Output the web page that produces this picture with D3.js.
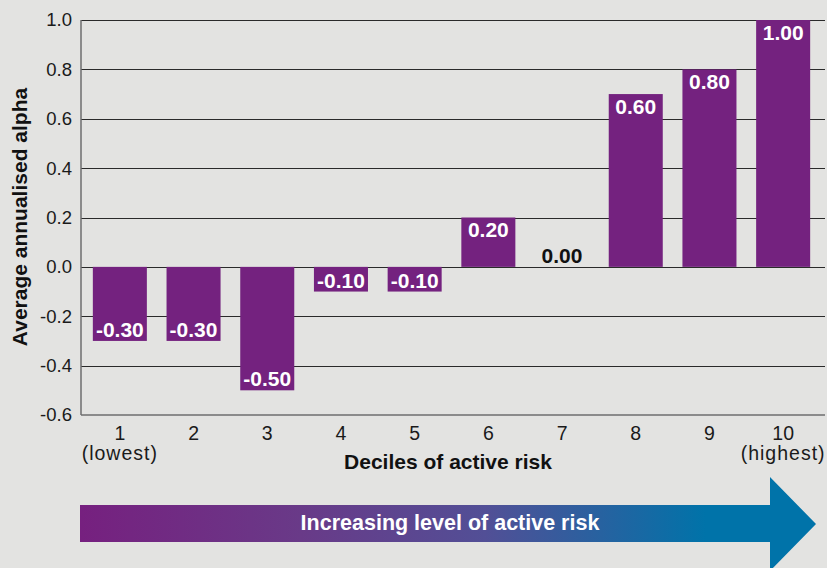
<!DOCTYPE html>
<html>
<head>
<meta charset="utf-8">
<script src="https://cdn.jsdelivr.net/npm/d3@7"></script>
<style>
html,body{margin:0;padding:0;background:#e3e3e1;}
svg{display:block;}
text{font-family:"Liberation Sans",Arial,Helvetica,sans-serif;}
</style>
</head>
<body>
<svg id="chart" width="827" height="568"></svg>
<script>
const categories = ["1","2","3","4","5","6","7","8","9","10"];
const subLabels = ["(lowest)","","","","","","","","","(highest)"];
const values = [-0.30,-0.30,-0.50,-0.10,-0.10,0.20,0.00,0.70,0.80,1.00];
const valueLabels = ["-0.30","-0.30","-0.50","-0.10","-0.10","0.20","0.00","0.60","0.80","1.00"];
const yTicks = [1.0,0.8,0.6,0.4,0.2,0.0,-0.2,-0.4,-0.6];
const yTitle = "Average annualised alpha";
const xTitle = "Deciles of active risk";
const arrowText = "Increasing level of active risk";

(function(){
const svg = d3.select("#chart");
const W = 827, H = 568;
svg.append("rect").attr("width",W).attr("height",H).attr("fill","#e3e3e1");

const pL = 81, pR = 825, pT = 20, pB = 415;
const y = d3.scaleLinear().domain([-0.6,1.0]).range([pB,pT]);
const x = d3.scaleBand().domain(categories).range([83,820]).paddingInner(0.267).paddingOuter(0.1335);

// gridlines
svg.append("g").selectAll("line").data(yTicks.filter(t=>t>-0.6))
  .join("line")
  .attr("x1",pL).attr("x2",pR)
  .attr("y1",d=>Math.round(y(d))+0.5).attr("y2",d=>Math.round(y(d))+0.5)
  .attr("stroke","#2a2a2a").attr("stroke-width",1);

// y axis
const yAxis = d3.axisLeft(y).tickValues(yTicks).tickSize(0).tickPadding(9)
  .tickFormat(d=> d<0 ? "-"+Math.abs(d).toFixed(1) : d.toFixed(1));
const gy = svg.append("g").attr("transform",`translate(${pL},0)`).call(yAxis);
gy.select(".domain").remove();
gy.selectAll("text").attr("font-size",18.5).attr("fill","#1a1a1a")
  .attr("font-family",'"Liberation Sans",Arial,sans-serif');

// bars
svg.append("g").selectAll("rect").data(values)
  .join("rect")
  .attr("x",(d,i)=>x(categories[i]))
  .attr("width",x.bandwidth())
  .attr("y",d=>y(Math.max(0,d)))
  .attr("height",d=>Math.abs(y(d)-y(0)))
  .attr("fill","#74227f");

// axis lines
svg.append("line").attr("x1",pL).attr("x2",pL).attr("y1",pT).attr("y2",pB)
  .attr("stroke","#6e6e6e").attr("stroke-width",1.5);
svg.append("line").attr("x1",pL).attr("x2",pR).attr("y1",pB).attr("y2",pB)
  .attr("stroke","#6e6e6e").attr("stroke-width",1.5);

// value labels
svg.append("g").selectAll("text").data(values)
  .join("text")
  .attr("x",(d,i)=>x(categories[i])+x.bandwidth()/2)
  .attr("y",d=> d>0 ? y(d)+19.5 : (d<0 ? y(d)-4 : y(0)-4))
  .attr("text-anchor","middle")
  .attr("font-size",21).attr("font-weight","bold")
  .attr("fill",d=> d===0 ? "#111" : "#fff")
  .text((d,i)=>valueLabels[i]);

// x tick labels
const xAxis = d3.axisBottom(x).tickSize(0).tickPadding(11);
const gx = svg.append("g").attr("transform",`translate(0,${pB})`).call(xAxis);
gx.select(".domain").remove();
gx.selectAll("text").attr("font-size",19.5).attr("fill","#1a1a1a")
  .attr("font-family",'"Liberation Sans",Arial,sans-serif');
svg.append("g").selectAll("text").data(subLabels)
  .join("text")
  .attr("x",(d,i)=>x(categories[i])+x.bandwidth()/2)
  .attr("y",460)
  .attr("text-anchor","middle")
  .attr("font-size",19.5).attr("letter-spacing",1).attr("fill","#1a1a1a")
  .text(d=>d);

// axis titles
svg.append("text").attr("x",448).attr("y",469).attr("text-anchor","middle")
  .attr("font-size",21).attr("font-weight","bold").attr("fill","#111").text(xTitle);
svg.append("text").attr("transform","translate(27,217) rotate(-90)").attr("text-anchor","middle")
  .attr("font-size",21).attr("font-weight","bold").attr("fill","#111").text(yTitle);

// arrow
const defs = svg.append("defs");
const grad = defs.append("linearGradient").attr("id","ag").attr("gradientUnits","userSpaceOnUse")
  .attr("x1",80).attr("x2",816).attr("y1",0).attr("y2",0);
grad.append("stop").attr("offset","0").attr("stop-color","#76207f");
grad.append("stop").attr("offset","0.3").attr("stop-color","#693a88");
grad.append("stop").attr("offset","0.55").attr("stop-color","#524f96");
grad.append("stop").attr("offset","0.85").attr("stop-color","#0073a9");
grad.append("stop").attr("offset","1").attr("stop-color","#0073a9");
const arrowPts = [[80,505],[770,505],[770,477],[816,524],[770,571],[770,542],[80,542]];
svg.append("path").attr("d",d3.line()(arrowPts)+"Z").attr("fill","url(#ag)");
svg.append("text").attr("x",450).attr("y",530).attr("text-anchor","middle")
  .attr("font-size",21.5).attr("font-weight","bold").attr("fill","#fff").text(arrowText);
})();
</script>
</body>
</html>
